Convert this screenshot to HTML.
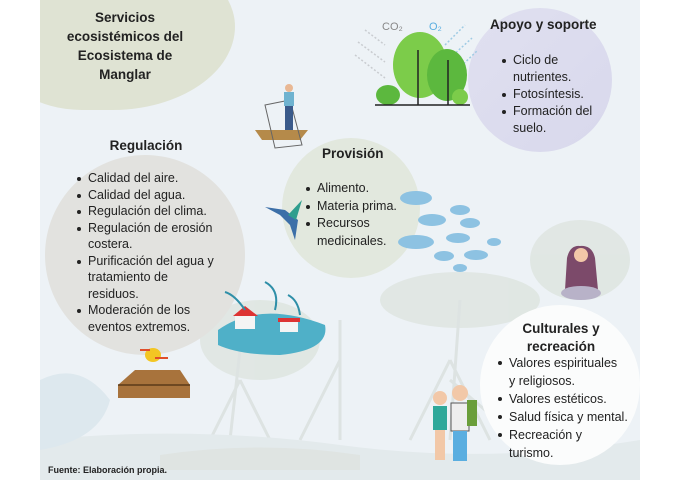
<!DOCTYPE html>
<html><head><meta charset="utf-8"><style>
*{margin:0;padding:0}
body{width:680px;height:480px;background:#fff;position:relative;overflow:hidden;font-family:"Liberation Sans",sans-serif;color:#222}
.bg{position:absolute;left:40px;top:0;width:600px;height:480px;background:#edf2f6;overflow:hidden}
.c{position:absolute;border-radius:50%}
.t{position:absolute;font-size:12.5px;line-height:17px;white-space:nowrap}
.b{font-weight:bold;font-size:13.5px;text-align:center}
ul{list-style:none}
li{position:relative;padding-left:11px}
li:before{content:"";position:absolute;left:0;top:7px;width:4px;height:4px;border-radius:50%;background:#222}
</style></head><body>
<div class="bg">
<svg width="600" height="480" style="position:absolute;left:0;top:0">
<g fill="#dfe6e2" opacity="0.9">
<ellipse cx="220" cy="340" rx="60" ry="40"/>
<ellipse cx="420" cy="300" rx="80" ry="28"/>
<ellipse cx="540" cy="260" rx="50" ry="40"/>
</g>
<g stroke="#dde3e2" stroke-width="3" fill="none">
<path d="M200 350 L190 440 M200 380 L170 440 M200 380 L230 440"/>
<path d="M420 300 L410 440 M410 360 L370 440 M410 360 L450 440 M410 380 L480 440"/>
<path d="M300 320 L300 440 M300 360 L260 440"/>
</g>
<path d="M0 440 Q150 425 300 445 T600 440 L600 480 L0 480Z" fill="#e3eaec"/>
<path d="M0 380 Q40 360 70 400 Q60 440 0 450Z" fill="#dde8ee"/>
<path d="M120 455 Q220 440 320 455 L320 470 L120 470Z" fill="#dfe4e2"/>
<ellipse cx="620" cy="165" rx="18" ry="65" fill="#dfe3d3"/>
</svg>
<div class="c" style="left:-40px;top:-50px;width:235px;height:160px;background:#dfe3d3;border-radius:45% 55% 60% 40%"></div>
<div class="c" style="left:428px;top:8px;width:144px;height:144px;background:linear-gradient(135deg,#e0e0f0,#d8d8ec)"></div>
<div class="c" style="left:5px;top:155px;width:200px;height:200px;background:#e2e2df"></div>
<div class="c" style="left:242px;top:138px;width:138px;height:140px;background:#e2e8de"></div>
<div class="c" style="left:440px;top:305px;width:160px;height:160px;background:#fbfcfc"></div>
<svg width="600" height="480" style="position:absolute;left:0;top:0">
<g stroke="#c9ccd0" stroke-width="1.5" stroke-dasharray="2 2" fill="none">
<path d="M325 30 L345 45 M318 42 L345 62 M315 55 L345 78"/></g>
<g stroke="#9fcbe4" stroke-width="1.5" stroke-dasharray="2 2" fill="none">
<path d="M405 45 L425 25 M410 58 L432 38 M415 72 L438 50"/></g>
<text x="342" y="30" font-size="11" fill="#888" font-family="Liberation Sans">CO₂</text>
<text x="389" y="30" font-size="11" fill="#5aaee0" font-family="Liberation Sans">O₂</text>
<ellipse cx="380" cy="65" rx="27" ry="33" fill="#7ccc4a"/>
<ellipse cx="407" cy="75" rx="20" ry="26" fill="#5cb83e"/>
<ellipse cx="348" cy="95" rx="12" ry="10" fill="#5cb83e"/>
<ellipse cx="420" cy="97" rx="8" ry="8" fill="#7ccc4a"/>
<path d="M378 50 V105 M408 60 V105 M335 105 H430" stroke="#222" stroke-width="1.5"/>
<path d="M215 130 L268 130 L260 140 L222 140Z" fill="#b58a4a"/>
<path d="M225 105 L250 100 L262 145 L235 148Z" fill="none" stroke="#666" stroke-width="1"/>
<rect x="244" y="92" width="10" height="14" fill="#6fb3d0"/><circle cx="249" cy="88" r="4" fill="#e9b894"/>
<rect x="245" y="106" width="8" height="24" fill="#3a5a8a"/>
<path d="M225 207 L245 210 L258 220 L255 240 L250 225 L240 215Z" fill="#3c6fa8"/>
<path d="M248 215 L262 200 L256 220Z" fill="#2f9e8e"/>
<g fill="#8dc2e2">
<ellipse cx="376" cy="198" rx="16" ry="7"/><ellipse cx="392" cy="220" rx="14" ry="6"/>
<ellipse cx="376" cy="242" rx="18" ry="7"/><ellipse cx="420" cy="210" rx="10" ry="5"/>
<ellipse cx="430" cy="223" rx="10" ry="5"/><ellipse cx="418" cy="238" rx="12" ry="5"/>
<ellipse cx="436" cy="255" rx="12" ry="5"/><ellipse cx="404" cy="256" rx="10" ry="5"/>
<ellipse cx="454" cy="242" rx="7" ry="4"/><ellipse cx="420" cy="268" rx="7" ry="4"/>
</g>
<path d="M178 330 Q220 300 285 325 Q290 350 240 355 Q200 355 178 345Z" fill="#4fb0c8"/>
<rect x="195" y="315" width="20" height="14" fill="#f4f4f4"/><path d="M193 316 L205 306 L218 316Z" fill="#d33"/>
<rect x="240" y="322" width="18" height="10" fill="#f4f4f4"/><rect x="238" y="318" width="22" height="4" fill="#d33"/>
<g stroke="#2f8fa8" stroke-width="2" fill="none"><path d="M205 310 Q195 295 185 292 M235 310 Q240 290 225 282 M260 315 Q258 300 248 295"/></g>
<path d="M78 385 L95 370 L140 370 L150 385 L150 398 L78 398Z" fill="#a8733c"/>
<path d="M78 385 L150 385" stroke="#5a3a18" stroke-width="1.5"/>
<ellipse cx="113" cy="355" rx="8" ry="7" fill="#f3c623"/>
<path d="M100 350 H110 M115 358 H128" stroke="#e04e2a" stroke-width="2"/>
<path d="M527 258 Q530 245 540 246 Q552 245 555 258 L558 290 L525 290Z" fill="#7c4a6a"/>
<circle cx="541" cy="255" r="7" fill="#f2c8a8"/>
<ellipse cx="541" cy="293" rx="20" ry="7" fill="#b8b2c8"/>
<circle cx="400" cy="398" r="7" fill="#f2c8a8"/><rect x="393" y="406" width="14" height="24" fill="#2fa89a"/>
<rect x="395" y="430" width="10" height="30" fill="#f2c8a8"/>
<circle cx="420" cy="393" r="8" fill="#f2c8a8"/><rect x="411" y="403" width="18" height="28" fill="#eee" stroke="#555"/>
<rect x="413" y="431" width="14" height="30" fill="#5aaee0"/><rect x="427" y="400" width="10" height="26" fill="#6a9e3a"/>
</svg>
<div class="t b" style="left:20px;top:8px;width:130px;line-height:19px">Servicios<br>ecosistémicos del<br>Ecosistema de<br>Manglar</div>
<div class="t b" style="left:450px;top:16px">Apoyo y soporte</div>
<ul class="t" style="left:462px;top:52px"><li>Ciclo de<br>nutrientes.</li><li>Fotosíntesis.</li><li>Formación del<br>suelo.</li></ul>
<div class="t b" style="left:66px;top:137px;width:80px">Regulación</div>
<ul class="t" style="left:37px;top:170px;line-height:16.5px"><li>Calidad del aire.</li><li>Calidad del agua.</li><li>Regulación del clima.</li><li>Regulación de erosión<br>costera.</li><li>Purificación del agua y<br>tratamiento de<br>residuos.</li><li>Moderación de los<br>eventos extremos.</li></ul>
<div class="t b" style="left:282px;top:145px">Provisión</div>
<ul class="t" style="left:266px;top:180px;line-height:17.5px"><li>Alimento.</li><li>Materia prima.</li><li>Recursos<br>medicinales.</li></ul>
<div class="t b" style="left:470px;top:320px;width:102px;line-height:18px">Culturales y<br>recreación</div>
<ul class="t" style="left:458px;top:354px;line-height:18px"><li>Valores espirituales<br>y religiosos.</li><li>Valores estéticos.</li><li>Salud física y mental.</li><li>Recreación y<br>turismo.</li></ul>
<div class="t" style="left:8px;top:462px;font-size:9px;font-weight:bold">Fuente: Elaboración propia.</div>
</div>
</body></html>
